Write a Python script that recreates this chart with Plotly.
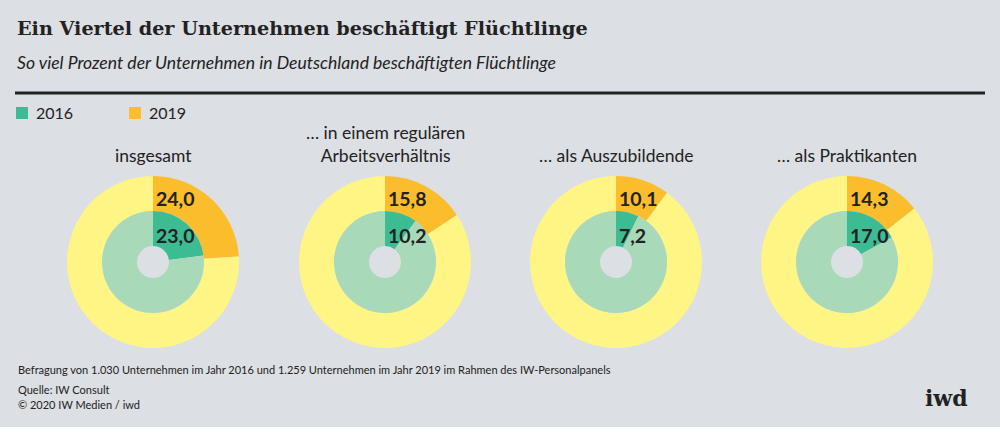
import plotly.graph_objects as go

W, H = 1000, 437

categories = ["insgesamt", "… in einem regulären<br>Arbeitsverhältnis", "… als Auszubildende", "… als Praktikanten"]
values_2016 = [23.0, 10.2, 7.2, 17.0]
values_2019 = [24.0, 15.8, 10.1, 14.3]
legend_labels = ["2016", "2019"]

BG = "#dcdfe3"
YELLOW = "#fff584"
ORANGE = "#fcbd2d"
GREEN = "#3dbc94"
LGREEN = "#a8dab9"
TXT = "#222222"
SANS = "Lato"
SERIF = "DejaVu Serif"

centers_x = [153, 385, 616, 847]
cy = 262
R_out, R_mid, R_in = 86, 51, 16

def px_x(x):
    return x / W

def px_y(y):
    return 1 - y / H

def fmt(v):
    return f"{v:.1f}".replace(".", ",")

fig = go.Figure()
annotations = []
for i, cat in enumerate(categories):
    cx = centers_x[i]
    fig.add_trace(go.Pie(
        values=[values_2019[i], 100 - values_2019[i]],
        marker=dict(colors=[ORANGE, YELLOW], line=dict(width=0)),
        hole=R_mid / R_out, sort=False, direction="clockwise", rotation=0,
        textinfo="none", hoverinfo="skip", showlegend=False,
        domain=dict(x=[px_x(cx - R_out), px_x(cx + R_out)], y=[px_y(cy + R_out), px_y(cy - R_out)]),
    ))
    fig.add_trace(go.Pie(
        values=[values_2016[i], 100 - values_2016[i]],
        marker=dict(colors=[GREEN, LGREEN], line=dict(width=0)),
        hole=R_in / R_mid, sort=False, direction="clockwise", rotation=0,
        textinfo="none", hoverinfo="skip", showlegend=False,
        domain=dict(x=[px_x(cx - R_mid), px_x(cx + R_mid)], y=[px_y(cy + R_mid), px_y(cy - R_mid)]),
    ))
    annotations.append(dict(text=cat, x=px_x(cx), y=px_y(168), xanchor="center", yanchor="bottom",
                            showarrow=False, font=dict(family=SANS, size=17.5, color=TXT), align="center"))
    annotations.append(dict(text="<b>" + fmt(values_2019[i]) + "</b>", x=px_x(cx + 1), y=px_y(198), xanchor="left",
                            yanchor="middle", showarrow=False, font=dict(family=SANS, size=19.5, color=TXT)))
    annotations.append(dict(text="<b>" + fmt(values_2016[i]) + "</b>", x=px_x(cx + 1), y=px_y(235), xanchor="left",
                            yanchor="middle", showarrow=False, font=dict(family=SANS, size=19.5, color=TXT)))

annotations += [
    dict(text="<b>Ein Viertel der Unternehmen beschäftigt Flüchtlinge</b>", x=px_x(15), y=px_y(28), xanchor="left",
         yanchor="middle", showarrow=False, font=dict(family=SERIF, size=19.2, color=TXT)),
    dict(text="<i>So viel Prozent der Unternehmen in Deutschland beschäftigten Flüchtlinge</i>", x=px_x(15), y=px_y(63),
         xanchor="left", yanchor="middle", showarrow=False, font=dict(family=SANS, size=17.6, color=TXT)),
    dict(text=legend_labels[0], x=px_x(34), y=px_y(113), xanchor="left", yanchor="middle", showarrow=False,
         font=dict(family=SANS, size=16, color=TXT)),
    dict(text=legend_labels[1], x=px_x(147), y=px_y(113), xanchor="left", yanchor="middle", showarrow=False,
         font=dict(family=SANS, size=16, color=TXT)),
    dict(text="Befragung von 1.030 Unternehmen im Jahr 2016 und 1.259 Unternehmen im Jahr 2019 im Rahmen des IW-Personalpanels",
         x=px_x(16), y=px_y(369), xanchor="left", yanchor="middle", showarrow=False,
         font=dict(family=SANS, size=11, color=TXT)),
    dict(text="Quelle: IW Consult", x=px_x(16), y=px_y(389), xanchor="left", yanchor="middle", showarrow=False,
         font=dict(family=SANS, size=11, color=TXT)),
    dict(text="© 2020 IW Medien / iwd", x=px_x(16), y=px_y(404), xanchor="left", yanchor="middle", showarrow=False,
         font=dict(family=SANS, size=11, color=TXT)),
    dict(text="<b>iwd</b>", x=px_x(946), y=px_y(398), xanchor="center", yanchor="middle", showarrow=False,
         font=dict(family=SERIF, size=22, color=TXT)),
]

shapes = [
    dict(type="line", xref="paper", yref="paper", x0=px_x(15), x1=px_x(985), y0=px_y(93), y1=px_y(93),
         line=dict(color=TXT, width=3)),
    dict(type="rect", xref="paper", yref="paper", x0=px_x(16), x1=px_x(28), y0=px_y(119), y1=px_y(107),
         fillcolor=GREEN, line=dict(width=0)),
    dict(type="rect", xref="paper", yref="paper", x0=px_x(129), x1=px_x(141), y0=px_y(119), y1=px_y(107),
         fillcolor=ORANGE, line=dict(width=0)),
    dict(type="rect", xref="paper", yref="paper", x0=0, x1=1, y0=0, y1=px_y(427),
         fillcolor="#ffffff", line=dict(width=0), layer="below"),
]

fig.update_layout(
    width=W, height=H, margin=dict(l=0, r=0, t=0, b=0),
    paper_bgcolor=BG, plot_bgcolor=BG,
    annotations=annotations, shapes=shapes, showlegend=False,
)

fig.write_html("out.html", config={"displayModeBar": False},
               post_script="document.body.style.margin='0';document.body.style.overflow='hidden';")
